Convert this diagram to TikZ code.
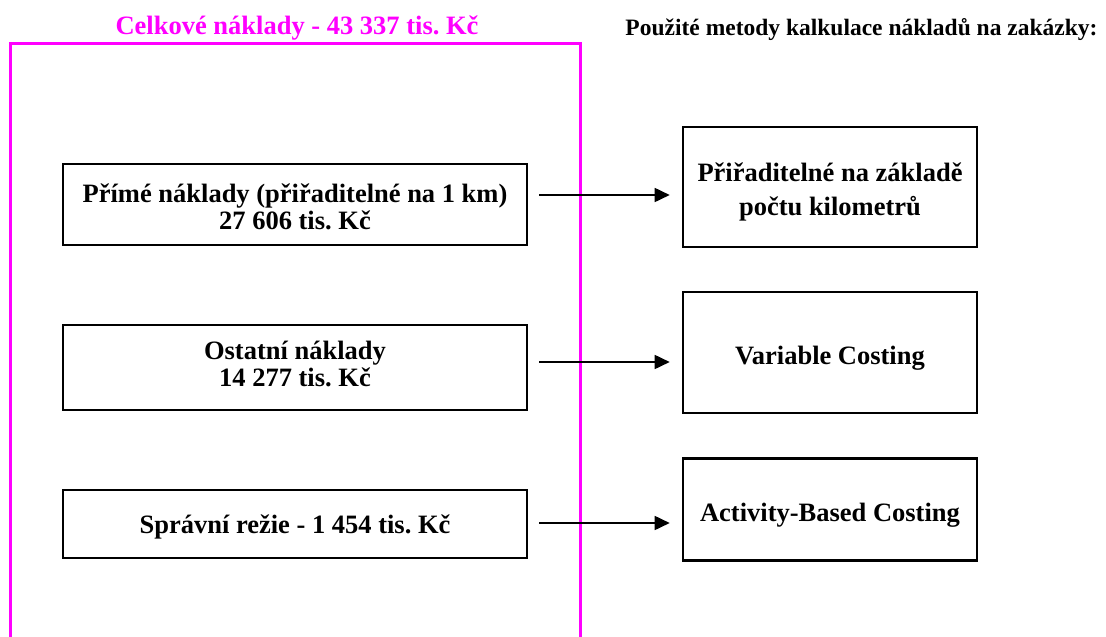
\documentclass[tikz,border=0pt]{standalone}
\usepackage{fontspec}
\setmainfont{Liberation Serif}
\usetikzlibrary{arrows.meta}
\definecolor{frame}{RGB}{255,0,255}
\begin{document}
\frenchspacing
\begin{tikzpicture}[x=1pt,y=-1pt,
  boxframe/.style={draw=black,line width=2.6pt,inner sep=0pt},
  costtext/.style={inner sep=0pt,align=center,font=\bfseries\fontsize{26.5}{27}\selectfont},
  methodtext/.style={costtext,font=\bfseries\fontsize{26.5}{34}\selectfont},
  flow/.style={line width=1.7pt,-{Triangle[length=15pt,width=14pt]}}]
\useasboundingbox (0,0) rectangle (1106,637);
% open magenta frame around the cost items
\draw[frame,line width=3pt] (10,660) -- (10,43) -- (580,43) -- (580,660);
\node[frame,font=\bfseries\fontsize{26.5}{30}\selectfont] (total) at (297,28) {Celkové náklady - 43 337 tis. Kč};
\node[font=\bfseries\fontsize{23.5}{28}\selectfont,anchor=east] (methods) at (1101,30) {Použité metody kalkulace nákladů na zakázky:};
% cost items
\node[boxframe,minimum width=464pt,minimum height=81pt] (direct) at (295,204.5) {};
\node[costtext] (directtext) at ([yshift=-2pt]direct.center) {Přímé náklady (přiřaditelné na 1 km)\\27 606 tis. Kč};
\node[boxframe,minimum width=464pt,minimum height=85pt] (other) at (295,367.5) {};
\node[costtext] (othertext) at ([yshift=4pt]other.center) {Ostatní náklady\\14 277 tis. Kč};
\node[boxframe,minimum width=464pt,minimum height=68pt] (admin) at (295,524) {};
\node[costtext] (admintext) at ([yshift=-3pt]admin.center) {Správní režie - 1 454 tis. Kč};
% costing methods
\node[boxframe,minimum width=294pt,minimum height=120pt] (km) at (830,187) {};
\node[methodtext] (kmtext) at ([yshift=-5pt]km.center) {Přiřaditelné na základě\\počtu kilometrů};
\node[boxframe,minimum width=294pt,minimum height=121pt] (vc) at (830,352.5) {};
\node[methodtext] (vctext) at ([yshift=-6pt]vc.center) {Variable Costing};
\node[boxframe,minimum width=294pt,minimum height=102pt] (abc) at (830,509.5) {};
\node[methodtext] (abctext) at ([yshift=-6pt]abc.center) {Activity-Based Costing};
% connectors
\draw[flow] ([xshift=11pt]direct.east |- 0,195) -- ([xshift=-12pt]km.west |- 0,195);
\draw[flow] ([xshift=11pt]other.east |- 0,362) -- ([xshift=-12pt]vc.west |- 0,362);
\draw[flow] ([xshift=11pt]admin.east |- 0,523) -- ([xshift=-12pt]abc.west |- 0,523);
\end{tikzpicture}
\end{document}
